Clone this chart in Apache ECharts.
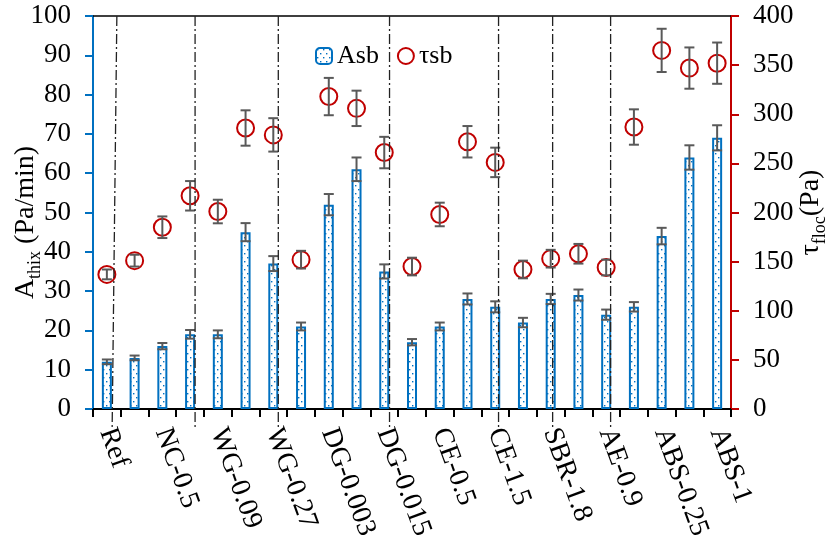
<!DOCTYPE html>
<html>
<head>
<meta charset="utf-8">
<script src="https://cdn.jsdelivr.net/npm/echarts@6/dist/echarts.min.js"></script>
<style>
  html, body { margin: 0; padding: 0; background: #fff; }
  #chart { width: 827px; height: 542px; }
</style>
</head>
<body>
<div id="chart"></div>
<script>
// Sample labels, shown on every second slot of the category axis
const tickLabels = ['Ref', 'NC-0.5', 'WG-0.09', 'WG-0.27', 'DG-0.003', 'DG-0.015',
  'CE-0.5', 'CE-1.5', 'SBR-1.8', 'AE-0.9', 'ABS-0.25', 'ABS-1'];

// Thixotropy index A_thix (Pa/min) with standard deviations
const asb    = [12, 13, 16, 19, 19, 45, 37, 21, 52, 61, 35, 17, 21, 28, 26, 22, 28, 29, 24, 26, 44, 64, 69];
const asbErr = [0.6, 0.6, 0.8, 1.1, 1.0, 2.3, 1.9, 1.0, 2.7, 3.0, 1.8, 0.8, 1.0, 1.4, 1.4, 1.2, 1.3, 1.4, 1.3, 1.2, 2.1, 3.1, 3.2];

// Flocculation shear stress tau_floc (Pa) with standard deviations
const tsb    = [137, 151, 185, 217, 201, 286, 279, 152, 318, 306, 261, 145, 198, 272, 251, 142, 153, 158, 144, 287, 365, 347, 352];
const tsbErr = [5, 6, 11, 15, 12, 18, 17, 9, 19, 18, 16, 9, 12, 16, 15, 9, 9, 10, 8, 18, 22, 21, 21];

// Dash-dot group separators, [top, bottom] in category-band units from the left edge
const separators = [[0.86, 0.69], [3.68, 3.68], [6.68, 6.68], [10.69, 10.69], [14.62, 14.62], [16.57, 16.57], [18.66, 18.66]];

const slots = asb.map((_, i) => String(i));
const FONT = 'Liberation Serif';
const BLUE = '#0070c0';
const RED = '#c00000';
const GREY = '#595959';

// Dotted fill for the bars
function dotPattern() {
  const c = document.createElement('canvas');
  c.width = 6; c.height = 8;
  const g = c.getContext('2d');
  g.fillStyle = '#ffffff';
  g.fillRect(0, 0, 6, 8);
  g.fillStyle = BLUE;
  g.fillRect(1, 1, 1.4, 1.4);
  g.fillRect(4, 5, 1.4, 1.4);
  return c;
}

function errorBars(color) {
  return function (params, api) {
    const x = api.value(0), y = api.value(1), e = api.value(2);
    const hi = api.coord([x, y + e]);
    const lo = api.coord([x, y - e]);
    const w = 5;
    const st = { stroke: color, lineWidth: 2 };
    return {
      type: 'group',
      children: [
        { type: 'line', shape: { x1: hi[0], y1: hi[1], x2: lo[0], y2: lo[1] }, style: st },
        { type: 'line', shape: { x1: hi[0] - w, y1: hi[1], x2: hi[0] + w, y2: hi[1] }, style: st },
        { type: 'line', shape: { x1: lo[0] - w, y1: lo[1], x2: lo[0] + w, y2: lo[1] }, style: st }
      ]
    };
  };
}

// Position inside the category band: u = 0 is the left edge of the first slot
function bandX(api, u, yVal) {
  const c0 = api.coord([0, yVal]);
  const c1 = api.coord([1, yVal]);
  const bw = c1[0] - c0[0];
  return [c0[0] + (u - 0.5) * bw, c0[1]];
}

const chart = echarts.init(document.getElementById('chart'), null, { renderer: 'canvas' });

const pattern = { image: dotPattern(), repeat: 'repeat' };

const richName = {
  m: { fontFamily: FONT, fontSize: 28, color: '#000', lineHeight: 32, verticalAlign: 'top' },
  s: { fontFamily: FONT, fontSize: 18, color: '#000', lineHeight: 32, verticalAlign: 'bottom' }
};

chart.setOption({
  animation: false,
  textStyle: { fontFamily: FONT },
  grid: { left: 93, right: 96, top: 16, bottom: 133, containLabel: false, outerBoundsMode: 'none' },
  legend: {
    left: 310, top: 38,
    itemWidth: 16, itemHeight: 16, itemGap: 18,
    textStyle: { fontFamily: FONT, fontSize: 26, color: '#000' },
    data: ['Asb', 'τsb']
  },
  xAxis: [{
    type: 'category',
    data: slots,
    position: 'bottom',
    axisLine: { lineStyle: { color: '#000', width: 2 } },
    axisTick: { show: true, interval: 0, length: 8, lineStyle: { color: '#000', width: 2 } },
    axisLabel: {
      interval: 0, rotate: -70, margin: 20,
      fontFamily: FONT, fontSize: 28, color: '#000',
      formatter: (v, i) => (i % 2 === 0 ? tickLabels[i / 2] : '')
    },
    splitLine: { show: false }
  }, {
    type: 'value',
    position: 'top',
    min: 0, max: asb.length,
    axisLine: { show: true, onZero: false, lineStyle: { color: '#000', width: 1.5 } },
    axisTick: { show: false },
    axisLabel: { show: false },
    splitLine: { show: false }
  }],
  yAxis: [{
    type: 'value',
    min: 0, max: 100, interval: 10,
    position: 'left',
    name: '{m|A}{s|thix}{m| (Pa/min)}',
    nameLocation: 'middle',
    nameRotate: 90,
    nameGap: 49,
    nameMoveOverlap: false,
    nameTextStyle: { padding: [0, 20, 0, 0], rich: richName },
    axisLine: { show: true, lineStyle: { color: BLUE, width: 2 } },
    axisTick: { show: true, length: 8, lineStyle: { color: BLUE, width: 2 } },
    axisLabel: { margin: 22, fontFamily: FONT, fontSize: 27, color: '#000' },
    splitLine: { show: false }
  }, {
    type: 'value',
    min: 0, max: 400, interval: 50,
    position: 'right',
    name: '{m|τ}{s|floc}{m|(Pa)}',
    nameLocation: 'middle',
    nameRotate: 90,
    nameGap: 66,
    nameMoveOverlap: false,
    nameTextStyle: { rich: richName },
    axisLine: { show: true, lineStyle: { color: RED, width: 2 } },
    axisTick: { show: true, length: 8, lineStyle: { color: RED, width: 2 } },
    axisLabel: { margin: 22, fontFamily: FONT, fontSize: 27, color: '#000' },
    splitLine: { show: false }
  }],
  series: [{
    name: 'Asb',
    type: 'bar',
    xAxisIndex: 0, yAxisIndex: 0,
    barWidth: 10,
    itemStyle: { color: pattern, borderColor: BLUE, borderWidth: 2 },
    data: asb,
    z: 2
  }, {
    name: 'τsb',
    type: 'scatter',
    xAxisIndex: 0, yAxisIndex: 1,
    symbol: 'circle',
    symbolSize: 17,
    itemStyle: { color: 'rgba(255,255,255,0)', borderColor: RED, borderWidth: 2, opacity: 1 },
    data: tsb,
    z: 3
  }, {
    type: 'custom',
    xAxisIndex: 0, yAxisIndex: 0,
    renderItem: errorBars(GREY),
    encode: { x: 0, y: 1 },
    data: asb.map((v, i) => [i, v, asbErr[i]]),
    z: 4
  }, {
    type: 'custom',
    xAxisIndex: 0, yAxisIndex: 1,
    renderItem: errorBars(GREY),
    encode: { x: 0, y: 1 },
    data: tsb.map((v, i) => [i, v, tsbErr[i]]),
    z: 4
  }, {
    type: 'custom',
    xAxisIndex: 0, yAxisIndex: 0,
    renderItem: function (params, api) {
      const top = bandX(api, api.value(1), 100);
      const bot = bandX(api, api.value(2), 0);
      return {
        type: 'line',
        shape: { x1: top[0], y1: top[1], x2: bot[0], y2: bot[1] + 20 },
        style: { stroke: '#222', lineWidth: 1.3, lineDash: [10, 3, 2, 3] }
      };
    },
    encode: { x: 0 },
    data: separators.map((s) => [0, s[0], s[1]]),
    z: 5
  }]
});
</script>
</body>
</html>
